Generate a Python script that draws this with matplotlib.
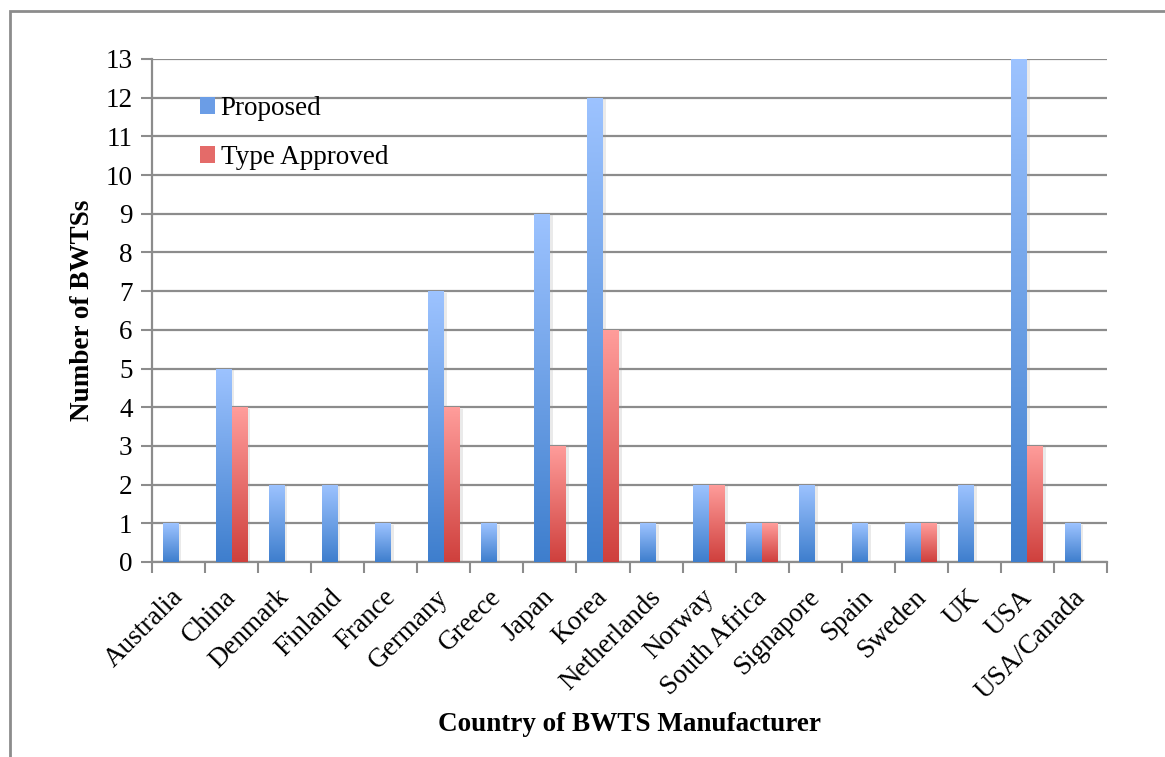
import numpy as np
import matplotlib
matplotlib.use("Agg")
import matplotlib.pyplot as plt
from matplotlib.colors import LinearSegmentedColormap
from matplotlib.patches import Rectangle, Patch
import matplotlib.patheffects as pe
import matplotlib.transforms as mtransforms

countries = ["Australia", "China", "Denmark", "Finland", "France", "Germany", "Greece",
             "Japan", "Korea", "Netherlands", "Norway", "South Africa", "Signapore",
             "Spain", "Sweden", "UK", "USA", "USA/Canada"]
proposed = [1, 5, 2, 2, 1, 7, 1, 9, 12, 1, 2, 1, 2, 1, 1, 2, 13, 1]
type_approved = [0, 4, 0, 0, 0, 4, 0, 3, 6, 0, 2, 1, 0, 0, 1, 0, 3, 0]

plt.rcParams['font.family'] = ['Liberation Serif', 'DejaVu Serif']
fs = 19.5

blue_map = LinearSegmentedColormap.from_list("blue", ["#9dc3ff", "#3e7ecd"])
red_map = LinearSegmentedColormap.from_list("red", ["#ff9d9b", "#cf403d"])

fig = plt.figure(figsize=(11.65, 7.57), dpi=100)
ax = fig.add_axes([0.1305, 0.2576, 0.8197, 0.6645])

# outer frame (cut off at right and bottom like the original)
fig.patches.append(Rectangle((10 / 1165, -0.1), 1.2, 1 - 11 / 757 + 0.1,
                             transform=fig.transFigure, fill=False,
                             edgecolor="#8c8c8c", linewidth=2))

x = np.arange(len(countries))
w = 0.3
shadow = [pe.SimplePatchShadow(offset=(2, -1), shadow_rgbFace="#999999", alpha=0.2), pe.Normal()]

grad = np.linspace(0, 1, 256).reshape(-1, 1)


def gradient_bars(bars, cmap):
    for b in bars:
        h = b.get_height()
        if h <= 0:
            continue
        x0 = b.get_x()
        im = ax.imshow(grad, cmap=cmap, aspect="auto", origin="upper",
                       extent=(x0, x0 + b.get_width(), 0, h), zorder=3)
        im.set_clip_path(b)


b1 = ax.bar(x - w / 2, proposed, w, color="#6b9de6", zorder=3, path_effects=shadow)
b2 = ax.bar(x + w / 2, type_approved, w, color="#e46b69", zorder=3, path_effects=shadow)
gradient_bars(b1, blue_map)
gradient_bars(b2, red_map)

ax.set_xlim(-0.5, len(countries) - 0.5)
ax.set_ylim(0, 13)
ax.set_yticks(range(0, 14))
ax.yaxis.grid(True, color="#8c8c8c", linewidth=1.6, zorder=0)
ax.set_axisbelow(True)

ax.set_xticks(np.arange(-0.5, len(countries), 1))
ax.set_xticklabels([])
ax.set_xticks(x, minor=True)
ax.set_xticklabels(countries, minor=True, rotation=45, ha="right", va="top",
                   rotation_mode="anchor", fontsize=fs)
ax.tick_params(axis="x", which="minor", length=0, pad=12)
ax.tick_params(axis="x", which="major", length=8, color="#8c8c8c", width=1.5)
ax.tick_params(axis="y", length=8, color="#8c8c8c", width=1.5, labelsize=fs, pad=6)

shift = mtransforms.ScaledTranslation(-8 / 100, -6 / 100, fig.dpi_scale_trans)
for lab in ax.get_xticklabels(minor=True):
    lab.set_transform(lab.get_transform() + shift)

for s in ["top", "right"]:
    ax.spines[s].set_visible(False)
for s in ["left", "bottom"]:
    ax.spines[s].set_color("#8c8c8c")
    ax.spines[s].set_linewidth(1.6)

ax.set_ylabel("Number of BWTSs", fontsize=fs, fontweight="bold")
ax.yaxis.set_label_coords(-0.06, 0.5)
ax.set_xlabel("Country of BWTS Manufacturer", fontsize=fs, fontweight="bold")
ax.xaxis.set_label_coords(0.5, -0.298)

handles = [Patch(facecolor="#6b9de6"), Patch(facecolor="#e46b69")]
ax.legend(handles, ["Proposed", "Type Approved"], loc="upper left",
          bbox_to_anchor=(0.025, 0.975), frameon=False, fontsize=fs,
          handlelength=0.55, handleheight=0.6, handletextpad=0.2, labelspacing=0.9)

fig.savefig("out.png", dpi=100)
